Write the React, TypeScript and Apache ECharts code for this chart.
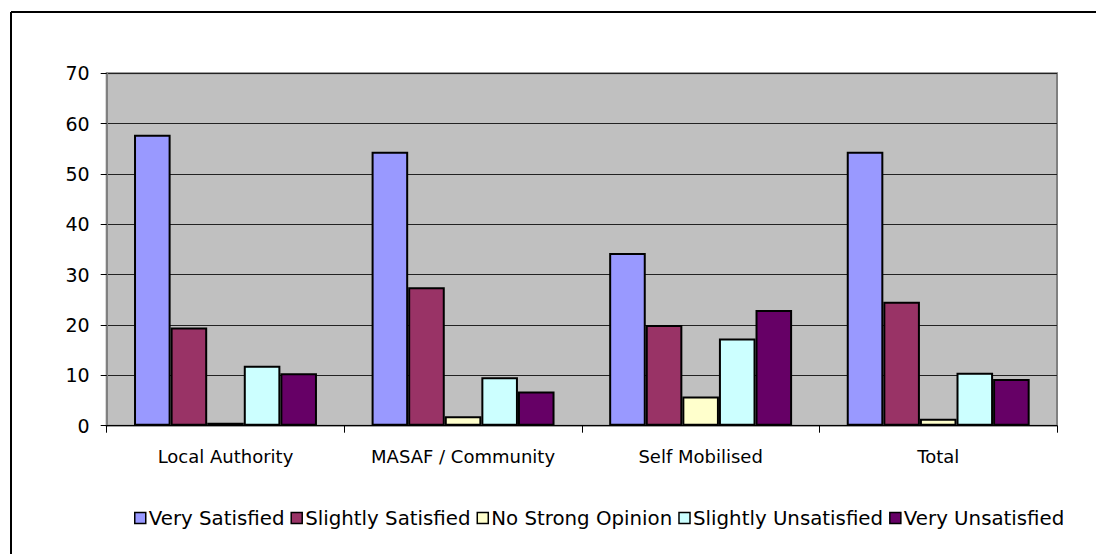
import React, { useEffect, useRef } from "react";
import * as echarts from "echarts";

const categories = ["Local Authority", "MASAF / Community", "Self Mobilised", "Total"];
const seriesNames = [
  "Very Satisfied",
  "Slightly Satisfied",
  "No Strong Opinion",
  "Slightly Unsatisfied",
  "Very Unsatisfied",
];
const verySatisfied = [57.8, 54.4, 34.3, 54.4];
const slightlySatisfied = [19.5, 27.5, 20.0, 24.6];
const noStrongOpinion = [0.6, 1.9, 5.8, 1.4];
const slightlyUnsatisfied = [11.9, 9.6, 17.3, 10.5];
const veryUnsatisfied = [10.4, 6.8, 23.0, 9.3];
const seriesValues = [verySatisfied, slightlySatisfied, noStrongOpinion, slightlyUnsatisfied, veryUnsatisfied];
const colors = ["#9999FF", "#993366", "#FFFFCC", "#CCFFFF", "#660066"];

const FONT = "DejaVu Sans";

export default function App() {
  const ref = useRef<HTMLDivElement>(null);
  useEffect(() => {
    if (!ref.current) return;
    const chart = echarts.init(ref.current, undefined, { renderer: "svg" });
    chart.setOption({
      animation: false,
      backgroundColor: "#FFFFFF",
      graphic: [
        {
          type: "line",
          shape: { x1: 11, y1: 12, x2: 1200, y2: 12 },
          style: { stroke: "#000", lineWidth: 2 },
          z: 100,
        },
        {
          type: "line",
          shape: { x1: 11, y1: 12, x2: 11, y2: 700 },
          style: { stroke: "#000", lineWidth: 2 },
          z: 100,
        },
      ],
      grid: {
        left: 106.7,
        top: 73.3,
        right: 39,
        bottom: 128.3,
        show: true,
        backgroundColor: "#C0C0C0",
        borderColor: "#808080",
        borderWidth: 2,
      },
      legend: {
        data: seriesNames,
        bottom: 21,
        left: 129,
        itemWidth: 11,
        itemHeight: 11,
        itemGap: 6,
        icon: "rect",
        textStyle: { fontFamily: FONT, fontSize: 19.8, color: "#000", padding: [0, 0, 0, -2] },
        itemStyle: { borderColor: "#000", borderWidth: 1.5 },
      },
      xAxis: {
        type: "category",
        data: categories,
        axisLine: { show: true, lineStyle: { color: "#000", width: 1 } },
        axisTick: { show: true, length: 7, lineStyle: { color: "#000" } },
        axisLabel: { fontFamily: FONT, fontSize: 18, color: "#000", margin: 22, interval: 0 },
      },
      yAxis: {
        type: "value",
        min: 0,
        max: 70,
        interval: 10,
        axisLine: { show: true, lineStyle: { color: "#808080", width: 2 } },
        axisTick: { show: true, length: 6, lineStyle: { color: "#000" } },
        axisLabel: { fontFamily: FONT, fontSize: 19, color: "#000", margin: 17 },
        splitLine: { show: true, lineStyle: { color: "#222", width: 1 } },
      },
      series: seriesNames.map((name, i) => ({
        name,
        type: "bar",
        data: seriesValues[i],
        barGap: "0%",
        barCategoryGap: "23%",
        itemStyle: { color: colors[i], borderColor: "#000", borderWidth: 2 },
      })),
    });
    return () => chart.dispose();
  }, []);
  return (
    <div
      ref={ref}
      style={{ position: "fixed", left: 0, top: 0, width: 1096, height: 554 }}
    />
  );
}
